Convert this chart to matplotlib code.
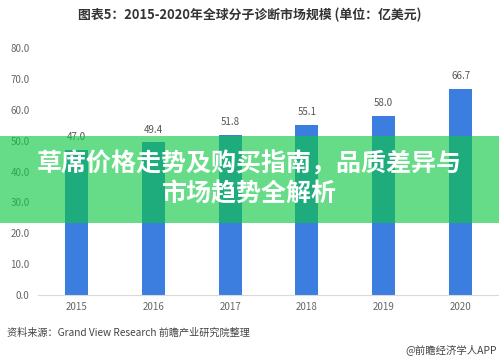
import matplotlib
matplotlib.use('Agg')
import matplotlib.pyplot as plt
from matplotlib.patches import Rectangle

plt.rcParams['font.family'] = ['Noto Sans CJK SC', 'DejaVu Sans']

# data
years = ['2015', '2016', '2017', '2018', '2019', '2020']
market = [47.0, 49.4, 51.8, 55.1, 58.0, 66.7]
yticks = [0, 10, 20, 30, 40, 50, 60, 70, 80]

title = '图表5：2015-2020年全球分子诊断市场规模 (单位：亿美元)'
source = '资料来源：Grand View Research 前瞻产业研究院整理'
brand = '@前瞻经济学人APP'
banner = '草席价格走势及购买指南，品质差异与\n市场趋势全解析'

fig = plt.figure(figsize=(4.99, 3.58), dpi=100)
ax = fig.add_axes([38/499, 63/358, 461/499, 247/358])

x = range(len(years))
ax.bar(x, market, width=0.3, color='#3c7de0')
for i, v in zip(x, market):
    ax.text(i, v + 2.5, '%.1f' % v, ha='center', va='bottom', fontsize=7, color='#555555')

ax.set_xlim(-0.5, len(years) - 0.5)
ax.set_ylim(0, 80)
ax.set_yticks(yticks)
ax.set_yticklabels(['%.1f' % t for t in yticks])
ax.set_xticks(list(x))
ax.set_xticklabels(years)
ax.tick_params(length=0, labelsize=7, colors='#666666')
ax.tick_params(axis='x', pad=5)
ax.tick_params(axis='y', pad=6)
for s in ['top', 'right', 'left']:
    ax.spines[s].set_visible(False)
ax.spines['bottom'].set_color('#d9d9d9')

fig.text(0.5, 1 - 15/358, title, ha='center', va='center', fontsize=9.3,
         fontweight='bold', color='#333333')
fig.text(7/499, 1 - 333/358, source, ha='left', va='center', fontsize=7.3, color='#444444')
fig.text(497/499, 1 - 350/358, brand, ha='right', va='center', fontsize=7.5, color='#444444')

# green overlay banner
fig.patches.append(Rectangle((0, 1 - 223/358), 1, 87/358, transform=fig.transFigure,
                             facecolor='#0dc943', alpha=0.63, edgecolor='none', zorder=5))
fig.text(0.5, 1 - 179/358, banner, ha='center', va='center', fontsize=18,
         fontweight='heavy', color='white', linespacing=1.3, zorder=6)

fig.savefig('out.png', dpi=100)
